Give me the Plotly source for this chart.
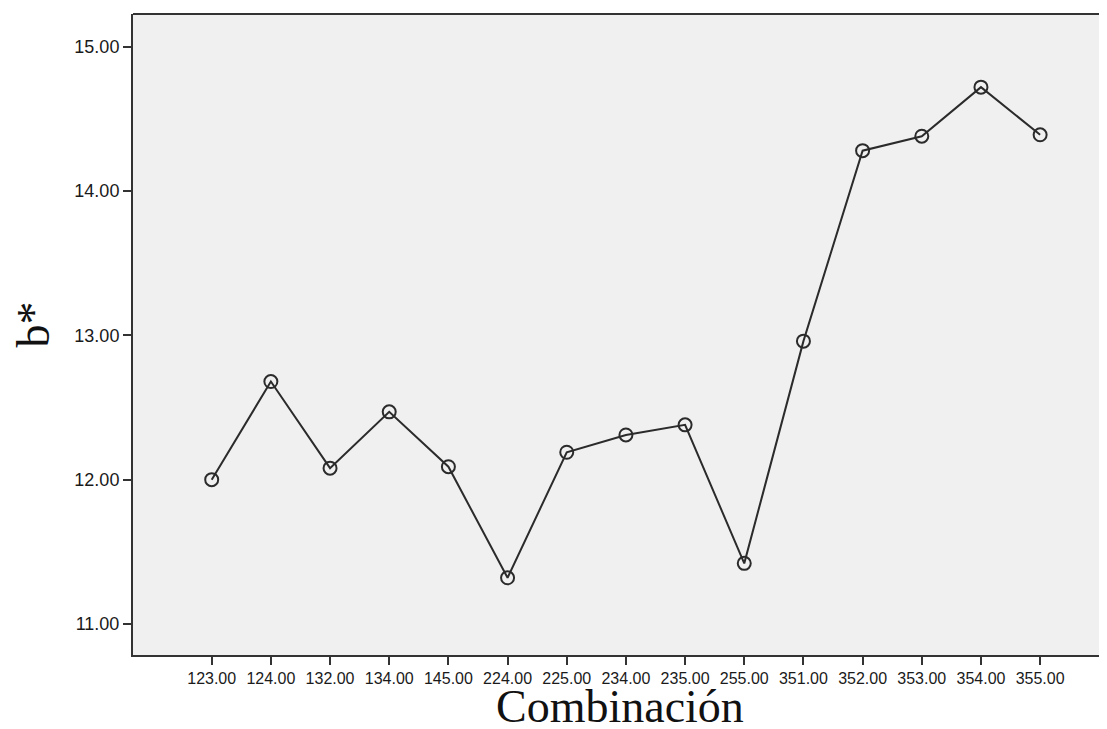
import plotly.graph_objects as go

combinaciones = ["123.00", "124.00", "132.00", "134.00", "145.00", "224.00", "225.00",
                 "234.00", "235.00", "255.00", "351.00", "352.00", "353.00", "354.00", "355.00"]
b_star = [12.00, 12.68, 12.08, 12.47, 12.09, 11.32, 12.19, 12.31, 12.38, 11.42,
          12.96, 14.28, 14.38, 14.72, 14.39]
y_ticks = [11, 12, 13, 14, 15]
y_ticklabels = ["11.00", "12.00", "13.00", "14.00", "15.00"]

fig = go.Figure()
fig.add_trace(go.Scatter(
    x=combinaciones, y=b_star, mode="lines+markers",
    line=dict(color="#2b2b2b", width=2),
    marker=dict(symbol="circle-open", size=13, color="#2b2b2b", line=dict(width=2)),
    showlegend=False,
))

fig.update_layout(
    width=1099, height=721,
    margin=dict(l=125, r=0, t=6, b=74),
    paper_bgcolor="white",
    plot_bgcolor="#f0f0f0",
    font=dict(family="Liberation Sans, Arial", color="#1a1a1a"),
)
fig.update_xaxes(
    type="category", range=[-1.33, 15.13],
    showline=True, linecolor="#333333", linewidth=2, mirror=False,
    ticks="outside", ticklen=8, tickwidth=2, tickcolor="#333333",
    tickfont=dict(size=16, family="Liberation Sans, Arial", color="#1a1a1a"),
    showgrid=False, zeroline=False,
)
fig.update_yaxes(
    range=[10.785, 15.227],
    tickvals=y_ticks, ticktext=y_ticklabels,
    showline=True, linecolor="#333333", linewidth=2,
    ticks="outside", ticklen=8, tickwidth=2, tickcolor="#333333",
    tickfont=dict(size=18, family="Liberation Sans, Arial", color="#1a1a1a"),
    showgrid=False, zeroline=False,
)
# top frame line
fig.add_shape(type="line", xref="paper", yref="paper", x0=0, x1=1, y0=1, y1=1,
              line=dict(color="#333333", width=2))

# axis titles
fig.add_annotation(text="Combinación", xref="paper", yref="paper", x=0.5, y=-0.08,
                   xanchor="center", yanchor="middle", showarrow=False,
                   font=dict(family="Liberation Serif, Times New Roman", size=46, color="#111111"))
fig.add_annotation(text="b*", xref="paper", yref="paper", x=-0.102, y=0.515,
                   xanchor="center", yanchor="middle", showarrow=False, textangle=-90,
                   font=dict(family="Liberation Serif, Times New Roman", size=46, color="#111111"))

fig.write_html("out.html")
